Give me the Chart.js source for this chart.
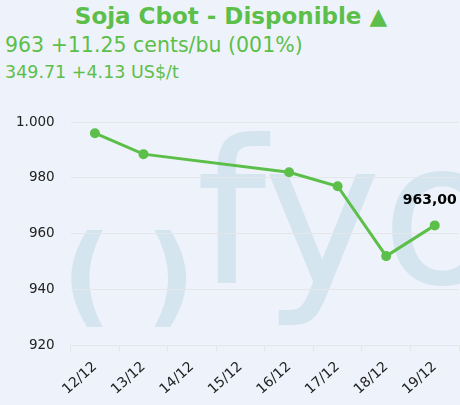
<!DOCTYPE html>
<html>
<head>
<meta charset="utf-8">
<script src="https://cdn.jsdelivr.net/npm/chart.js@4/dist/chart.umd.min.js"></script>
<style>
  body { margin: 0; background: #eef2fa; width: 460px; height: 405px; overflow: hidden; position: relative; font-family: "DejaVu Sans", Verdana, sans-serif; }
  #t1 { position: absolute; top: 3px; left: 0; width: 462px; text-align: center; color: #5cbf4a; font-weight: bold; font-size: 23px; }
  #t2 { position: absolute; top: 33px; left: 5px; color: #5cbf4a; font-size: 20.5px; }
  #t3 { position: absolute; top: 62px; left: 5px; color: #5cbf4a; font-size: 17.5px; }
  #wrap { position: absolute; top: 95px; left: 0; width: 466px; height: 310px; }
</style>
</head>
<body>
<div id="t1">Soja Cbot - Disponible ▲</div>
<div id="t2">963 +11.25 cents/bu (001%)</div>
<div id="t3">349.71 +4.13 US$/t</div>
<div id="wrap"><canvas id="canvas"></canvas></div>
<script>
// Datos del gráfico
var fechas = ["12/12", "13/12", "14/12", "15/12", "16/12", "17/12", "18/12", "19/12"];
var precios = [996, 988.5, null, null, 982, 977, 952, 963];
var ticksY = [920, 940, 960, 980, 1000];
var etiquetaFinal = "963,00";

/**
 * Marca de agua "()fyo" detrás del gráfico
 */
var marcaAgua = {
    id: 'marcaAgua',
    beforeDraw(chart) {
        var ctx = chart.ctx;
        ctx.save();
        ctx.fillStyle = '#d5e5f0';
        ctx.font = '200px "DejaVu Sans"';
        ctx.textBaseline = 'alphabetic';
        ctx.fillText('fyo', 196, 188);
        ctx.font = 'bold 108px "DejaVu Sans"';
        ctx.fillText('(', 62, 218);
        ctx.fillText(')', 146, 218);
        ctx.restore();
    }
};

/**
 * Etiqueta con el último valor
 */
var ultimoValor = {
    id: 'ultimoValor',
    afterDatasetsDraw(chart) {
        var meta = chart.getDatasetMeta(0);
        var p = meta.data[meta.data.length - 1];
        var ctx = chart.ctx;
        ctx.save();
        ctx.fillStyle = '#000';
        ctx.font = 'bold 14px "DejaVu Sans"';
        ctx.textAlign = 'left';
        ctx.fillText(etiquetaFinal, p.x - 32, p.y - 21);
        ctx.restore();
    }
};

var chart = new Chart(document.getElementById("canvas"), {
    type: 'line',
    data: {
        labels: fechas,
        datasets: [{
            data: precios,
            borderColor: "#5cbf4a",
            backgroundColor: "#5cbf4a",
            borderWidth: 3,
            pointRadius: 3.5,
            spanGaps: true,
            tension: 0
        }]
    },
    plugins: [marcaAgua, ultimoValor],
    options: {
        responsive: true,
        maintainAspectRatio: false,
        animation: false,
        layout: { padding: { top: 27, left: 0, right: 0, bottom: 0 } },
        plugins: { legend: { display: false }, tooltip: { enabled: false } },
        scales: {
            x: {
                offset: true,
                grid: { offset: true, color: '#e4e6ea', drawOnChartArea: false, tickLength: 6 },
                border: { color: '#e4e6ea' },
                ticks: { color: '#222', padding: 7, font: { family: 'DejaVu Sans', size: 14 }, minRotation: 42, maxRotation: 42 }
            },
            y: {
                min: 920,
                max: 1000,
                afterBuildTicks(axis) { axis.ticks = ticksY.map(v => ({ value: v })); },
                grid: { color: '#e4e6ea', drawTicks: false },
                border: { display: false },
                ticks: {
                    color: '#222', padding: 16,
                    font: { family: 'DejaVu Sans', size: 13.5 },
                    callback: v => v.toLocaleString('de-DE')
                }
            }
        }
    }
});
</script>
</body>
</html>
